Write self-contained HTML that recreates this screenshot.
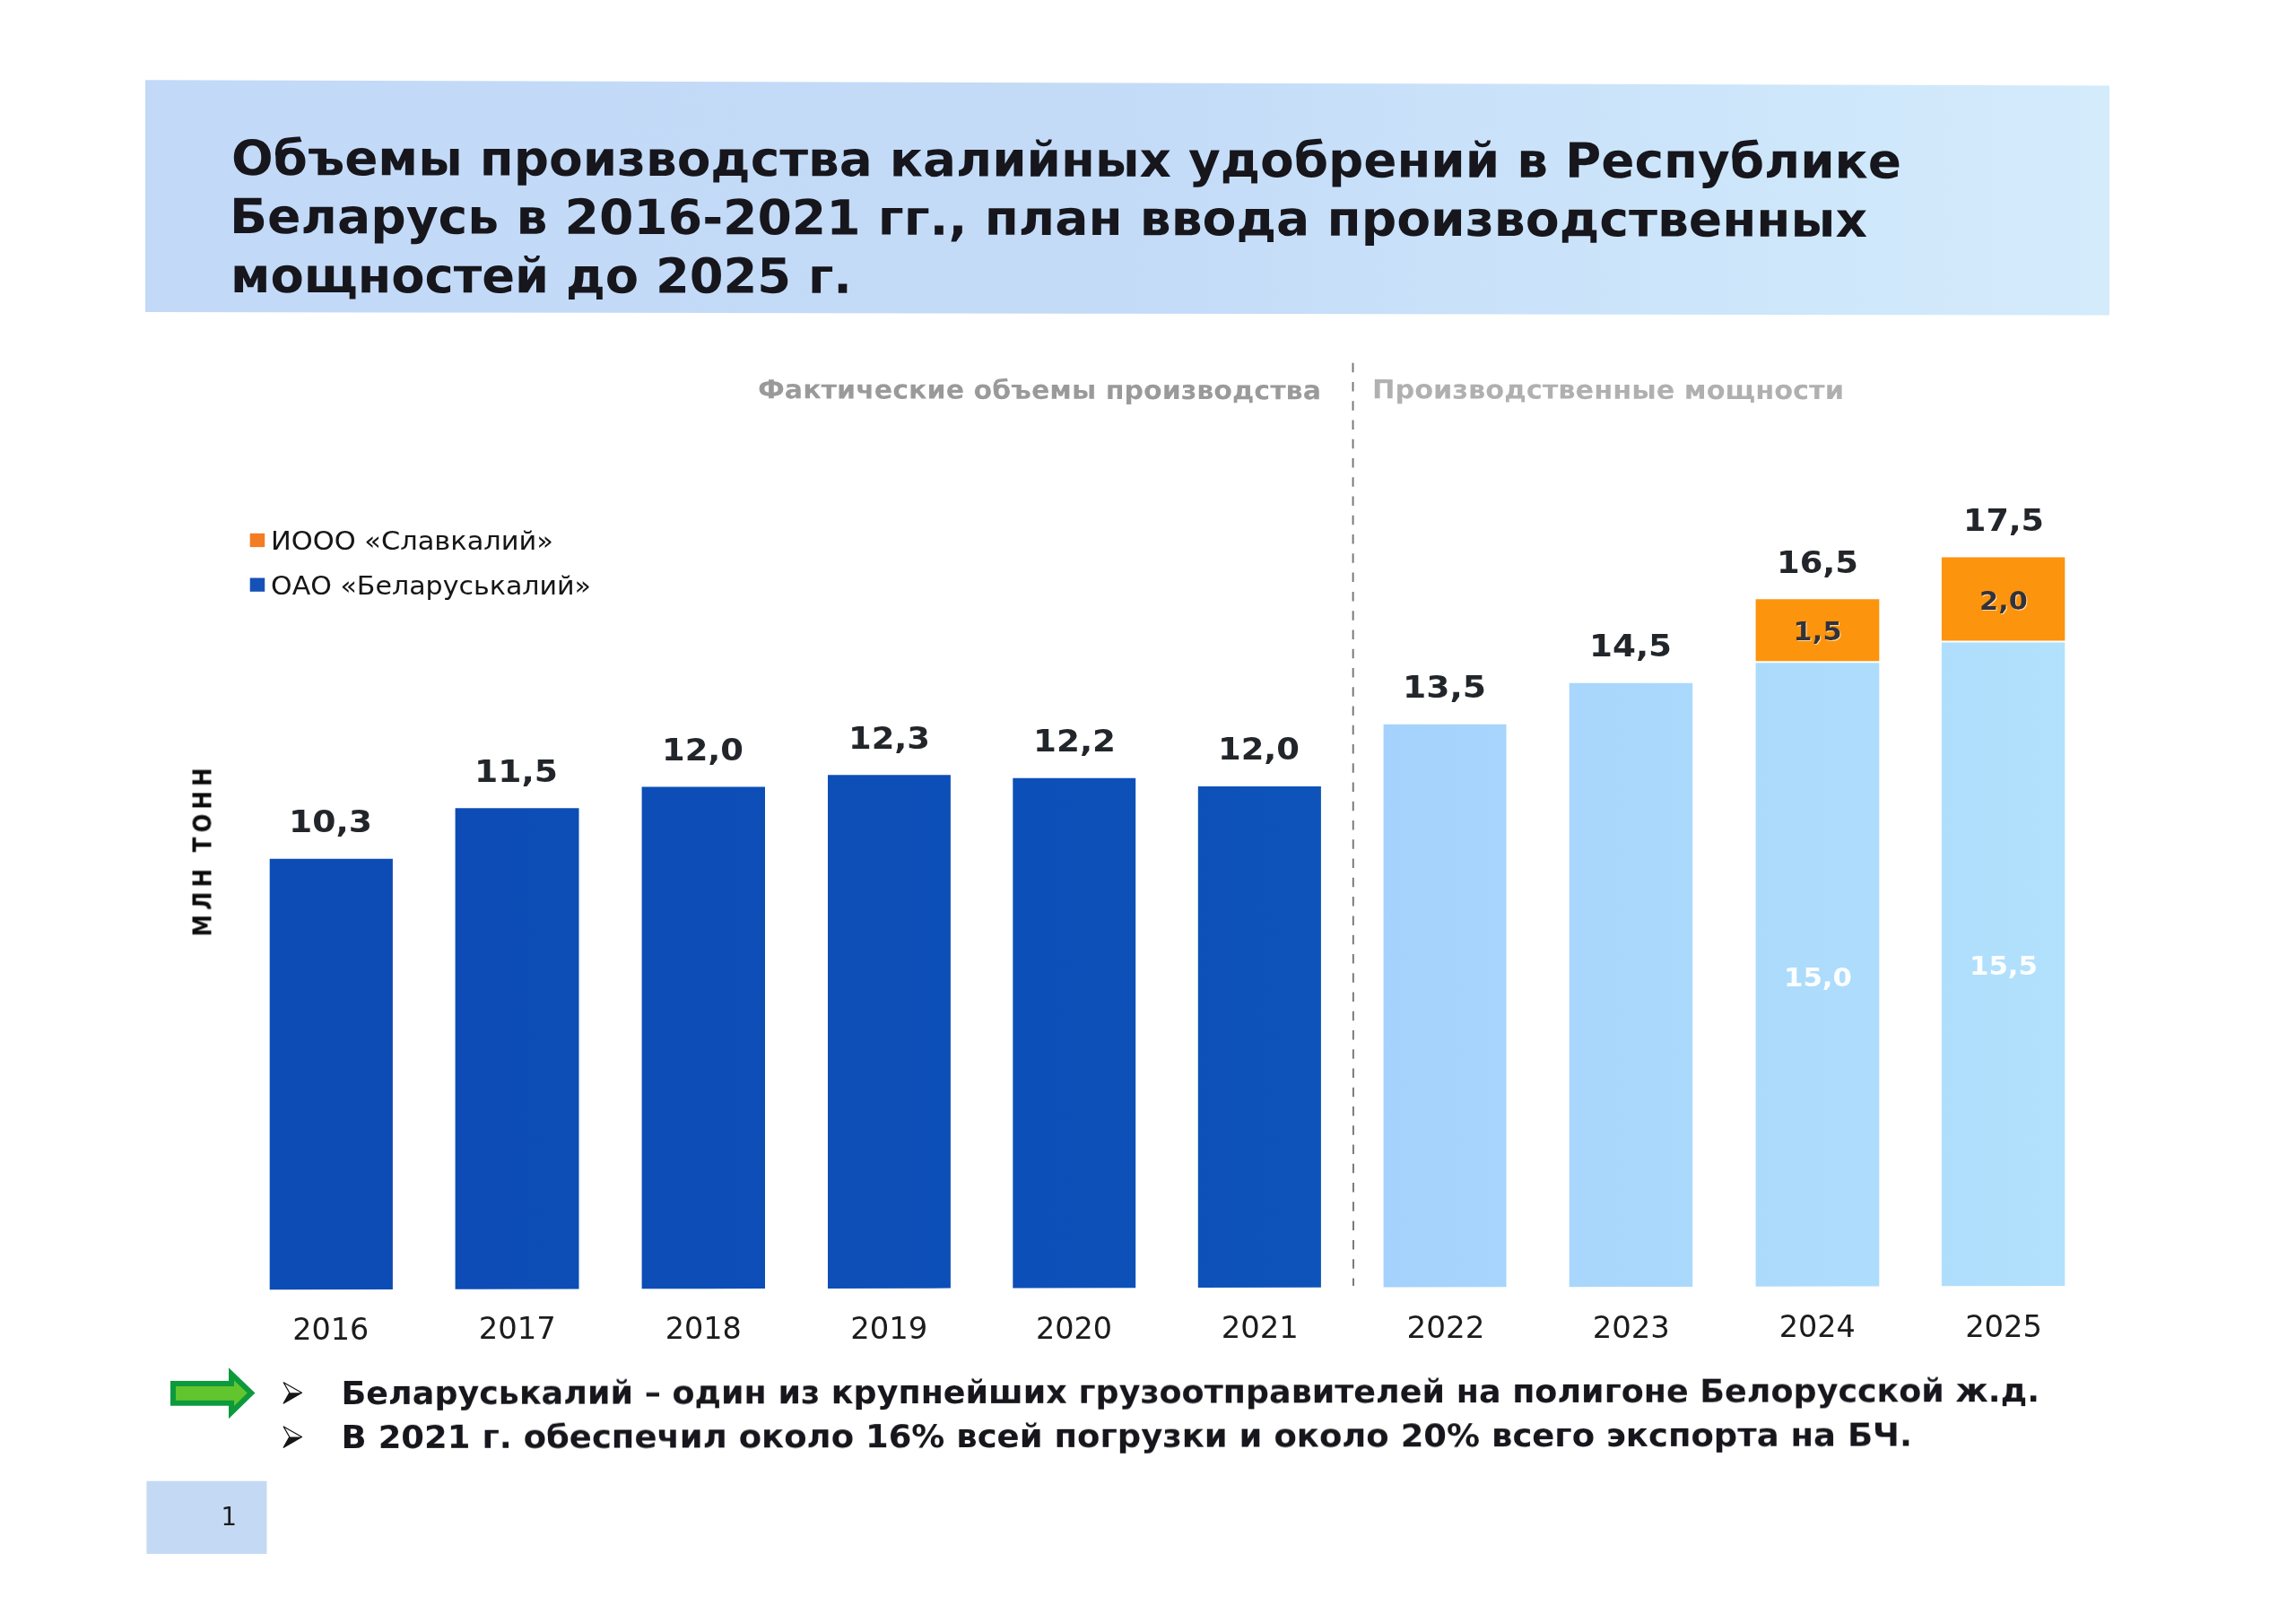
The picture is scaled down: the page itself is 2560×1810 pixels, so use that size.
<!DOCTYPE html>
<html lang="ru"><head><meta charset="utf-8"><title>Объемы производства калийных удобрений</title>
<style>html,body{margin:0;padding:0;background:#ffffff}body{width:2560px;height:1810px;overflow:hidden}svg{display:block}text{font-family:"DejaVu Sans", "Liberation Sans", sans-serif}.b{font-weight:bold}</style>
</head><body>
<svg width="2560" height="1810" viewBox="0 0 2560 1810">
<defs>
<linearGradient id="hg" x1="0" y1="0" x2="1" y2="0"><stop offset="0" stop-color="#c2d9f7"/><stop offset="0.5" stop-color="#c4dbf8"/><stop offset="0.75" stop-color="#cce4fa"/><stop offset="1" stop-color="#d3ebfb"/></linearGradient>
<linearGradient id="dbg" gradientUnits="userSpaceOnUse" x1="300" y1="0" x2="1473" y2="0"><stop offset="0" stop-color="#0a4bb5"/><stop offset="1" stop-color="#0b52b9"/></linearGradient>
<linearGradient id="lbg" gradientUnits="userSpaceOnUse" x1="1543" y1="0" x2="2302" y2="0"><stop offset="0" stop-color="#a5d2fc"/><stop offset="1" stop-color="#b1e1fc"/></linearGradient>
<filter id="glow" x="-20%" y="-20%" width="140%" height="140%"><feDropShadow dx="1" dy="1" stdDeviation="0.5" flood-color="#ffe2b0" flood-opacity="0.9"/></filter>
<filter id="scan" filterUnits="userSpaceOnUse" x="0" y="0" width="2560" height="1810"><feGaussianBlur stdDeviation="0.55"/></filter>
</defs>
<rect width="2560" height="1810" fill="#ffffff"/>
<g filter="url(#scan)">
<polygon points="162,89.3 2352,95.5 2352,351.6 162,348" fill="url(#hg)"/>
<text class="b" x="258.00" y="195.00" font-size="54" fill="#15181d" textLength="1862.00" lengthAdjust="spacingAndGlyphs" transform="rotate(0.110 260.6 195.0)">Объемы производства калийных удобрений в Республике</text>
<text class="b" x="256.00" y="260.00" font-size="54" fill="#15181d" textLength="1826.00" lengthAdjust="spacingAndGlyphs" transform="rotate(0.125 261.5 260.0)">Беларусь в 2016-2021 гг., план ввода производственных</text>
<text class="b" x="257.00" y="326.00" font-size="54" fill="#15181d" textLength="693.00" lengthAdjust="spacingAndGlyphs" transform="rotate(0.060 261.6 326.0)">мощностей до 2025 г.</text>
<text class="b" x="845.00" y="444.30" font-size="29" fill="#9a9a9a" textLength="628.00" lengthAdjust="spacingAndGlyphs" transform="rotate(0.090 845.9 444.3)">Фактические объемы производства</text>
<text class="b" x="1530.00" y="444.30" font-size="29" fill="#b0b0b0" textLength="526.00" lengthAdjust="spacingAndGlyphs" transform="rotate(0.090 1532.4 444.3)">Производственные мощности</text>
<line x1="1508.5" y1="404.7" x2="1509" y2="1434" stroke="#747474" stroke-width="1.9" stroke-dasharray="10.5 10.765"/>
<polygon points="300.7,957.8 437.9,957.8 437.9,1437.9 300.7,1438.2" fill="url(#dbg)"/>
<text class="b" x="322.00" y="928.30" font-size="34" fill="#23262c" textLength="93.00" lengthAdjust="spacingAndGlyphs">10,3</text>
<text x="326.15" y="1493.60" font-size="34" fill="#1b1b1b" textLength="85.00" lengthAdjust="spacingAndGlyphs">2016</text>
<polygon points="507.6,901.2 645.5,901.2 645.5,1437.5 507.6,1437.8" fill="url(#dbg)"/>
<text class="b" x="529.00" y="871.70" font-size="34" fill="#23262c" textLength="93.00" lengthAdjust="spacingAndGlyphs">11,5</text>
<text x="533.71" y="1493.33" font-size="34" fill="#1b1b1b" textLength="86.00" lengthAdjust="spacingAndGlyphs">2017</text>
<polygon points="715.6,877.6 853.0,877.6 853.0,1437.0 715.6,1437.3" fill="url(#dbg)"/>
<text class="b" x="738.00" y="848.10" font-size="34" fill="#23262c" textLength="91.00" lengthAdjust="spacingAndGlyphs">12,0</text>
<text x="741.87" y="1493.07" font-size="34" fill="#1b1b1b" textLength="85.00" lengthAdjust="spacingAndGlyphs">2018</text>
<polygon points="923.0,864.3 1059.9,864.3 1059.9,1436.6 923.0,1436.9" fill="url(#dbg)"/>
<text class="b" x="946.00" y="834.80" font-size="34" fill="#23262c" textLength="91.00" lengthAdjust="spacingAndGlyphs">12,3</text>
<text x="948.23" y="1492.80" font-size="34" fill="#1b1b1b" textLength="86.00" lengthAdjust="spacingAndGlyphs">2019</text>
<polygon points="1129.3,867.8 1266.2,867.8 1266.2,1436.2 1129.3,1436.5" fill="url(#dbg)"/>
<text class="b" x="1152.00" y="838.30" font-size="34" fill="#23262c" textLength="92.00" lengthAdjust="spacingAndGlyphs">12,2</text>
<text x="1155.04" y="1492.53" font-size="34" fill="#1b1b1b" textLength="85.00" lengthAdjust="spacingAndGlyphs">2020</text>
<polygon points="1335.8,876.9 1472.9,876.9 1472.9,1435.7 1335.8,1436.0" fill="url(#dbg)"/>
<text class="b" x="1358.00" y="847.40" font-size="34" fill="#23262c" textLength="91.00" lengthAdjust="spacingAndGlyphs">12,0</text>
<text x="1361.75" y="1492.27" font-size="34" fill="#1b1b1b" textLength="86.00" lengthAdjust="spacingAndGlyphs">2021</text>
<polygon points="1542.6,807.8 1679.5,807.8 1679.5,1435.3 1542.6,1435.6" fill="url(#lbg)"/>
<text class="b" x="1564.00" y="778.30" font-size="34" fill="#23262c" textLength="93.00" lengthAdjust="spacingAndGlyphs">13,5</text>
<text x="1568.61" y="1492.00" font-size="34" fill="#1b1b1b" textLength="87.00" lengthAdjust="spacingAndGlyphs">2022</text>
<polygon points="1749.7,761.7 1887.2,761.7 1887.2,1434.9 1749.7,1435.2" fill="url(#lbg)"/>
<text class="b" x="1772.00" y="732.20" font-size="34" fill="#23262c" textLength="92.00" lengthAdjust="spacingAndGlyphs">14,5</text>
<text x="1775.87" y="1491.74" font-size="34" fill="#1b1b1b" textLength="86.00" lengthAdjust="spacingAndGlyphs">2023</text>
<polygon points="1957.6,739.3 2095.3,739.3 2095.3,1434.4 1957.6,1434.7" fill="url(#lbg)"/>
<polygon points="1957.6,668.3 2095.3,668.3 2095.3,737.3 1957.6,737.3" fill="#fc9411"/>
<text class="b" x="1981.00" y="638.80" font-size="34" fill="#23262c" textLength="91.00" lengthAdjust="spacingAndGlyphs">16,5</text>
<text x="1983.78" y="1491.47" font-size="34" fill="#1b1b1b" textLength="85.00" lengthAdjust="spacingAndGlyphs">2024</text>
<polygon points="2164.9,716.5 2302.3,716.5 2302.3,1434.0 2164.9,1434.3" fill="url(#lbg)"/>
<polygon points="2164.9,621.4 2302.3,621.4 2302.3,714.5 2164.9,714.5" fill="#fc9411"/>
<text class="b" x="2189.00" y="591.90" font-size="34" fill="#23262c" textLength="90.00" lengthAdjust="spacingAndGlyphs">17,5</text>
<text x="2191.14" y="1491.20" font-size="34" fill="#1b1b1b" textLength="86.00" lengthAdjust="spacingAndGlyphs">2025</text>
<text class="b" x="1999.60" y="714.00" font-size="27.5" fill="#33303a" textLength="54.00" lengthAdjust="spacingAndGlyphs" filter="url(#glow)">1,5</text>
<text class="b" x="2207.00" y="680.30" font-size="29" fill="#33303a" textLength="54.00" lengthAdjust="spacingAndGlyphs" filter="url(#glow)">2,0</text>
<text class="b" x="1989.00" y="1099.60" font-size="29" fill="#fdfeff" textLength="76.00" lengthAdjust="spacingAndGlyphs">15,0</text>
<text class="b" x="2196.00" y="1087.30" font-size="29" fill="#fdfeff" textLength="76.00" lengthAdjust="spacingAndGlyphs">15,5</text>
<rect x="278.7" y="594.8" width="16.5" height="15.3" fill="#f47b20"/>
<rect x="278.7" y="644.5" width="16.5" height="15.3" fill="#1651b8"/>
<text x="302.00" y="613.00" font-size="29.2" fill="#151515" textLength="315.00" lengthAdjust="spacingAndGlyphs">ИООО «Славкалий»</text>
<text x="302.00" y="662.60" font-size="29.2" fill="#151515" textLength="357.00" lengthAdjust="spacingAndGlyphs">ОАО «Беларуськалий»</text>
<text class="b" transform="translate(235.5,1044.4) rotate(-90) scale(0.88,1)" x="0" y="0" font-size="27.8" fill="#111" textLength="213.5" lengthAdjust="spacing">МЛН ТОНН</text>
<polygon points="193,1543.1 258,1543.1 258,1532.3 280.1,1553.5 258,1575.2 258,1564.8 193,1564.8" fill="#62c52f" stroke="#0f9a3c" stroke-width="6" stroke-linejoin="miter"/>
<g transform="translate(316.2,1553.3)"><path d="M0,-11.5 L20.3,0 L0,11.7 L6.6,0 Z" fill="#fff" stroke="#151515" stroke-width="1.3" stroke-linejoin="round"/><path d="M20.3,0 L0,11.7 L6.6,0 Z" fill="#151515"/></g>
<g transform="translate(316.2,1602.5)"><path d="M0,-11.5 L20.3,0 L0,11.7 L6.6,0 Z" fill="#fff" stroke="#151515" stroke-width="1.3" stroke-linejoin="round"/><path d="M20.3,0 L0,11.7 L6.6,0 Z" fill="#151515"/></g>
<text class="b" x="380.60" y="1565.70" font-size="35.5" fill="#15171b" textLength="1893.40" lengthAdjust="spacingAndGlyphs" transform="rotate(-0.088 383.6 1565.7)">Беларуськалий – один из крупнейших грузоотправителей на полигоне Белорусской ж.д.</text>
<text class="b" x="380.60" y="1614.80" font-size="35.5" fill="#15171b" textLength="1751.40" lengthAdjust="spacingAndGlyphs" transform="rotate(-0.082 383.6 1614.8)">В 2021 г. обеспечил около 16% всей погрузки и около 20% всего экспорта на БЧ.</text>
<rect x="163.4" y="1651.7" width="134.1" height="81.2" fill="#c4d9f4"/>
<text x="255.3" y="1701.4" font-size="27.5" fill="#1b1b1b" text-anchor="middle">1</text>
</g>
</svg></body></html>
